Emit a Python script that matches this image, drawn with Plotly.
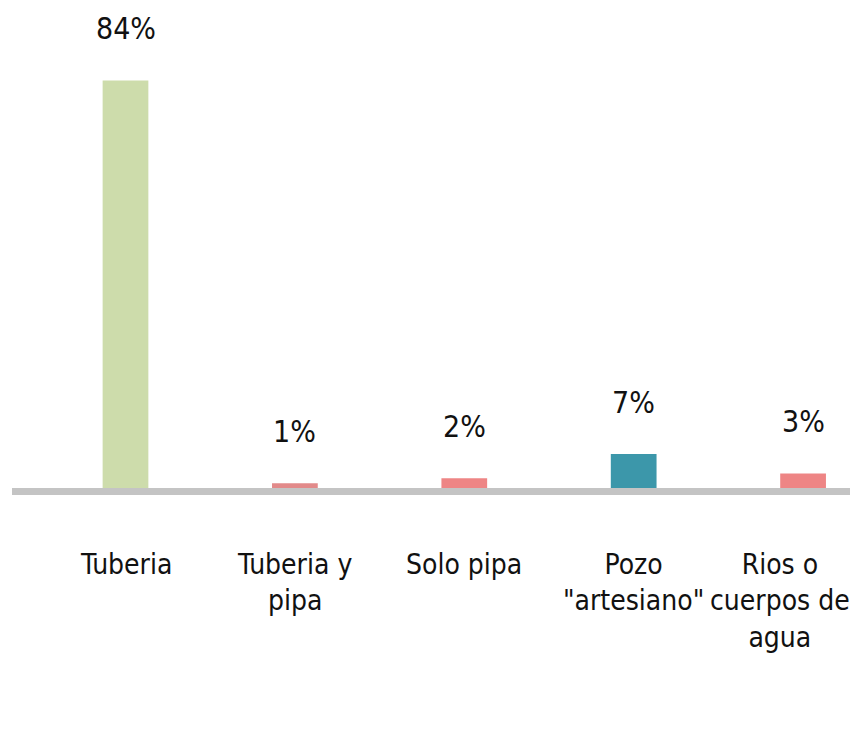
import plotly.graph_objects as go

categories = ["Tuberia", "Tuberia y<br>pipa", "Solo pipa", "Pozo<br>\"artesiano\"", "Rios o<br>cuerpos de<br>agua"]
values = [84, 1, 2, 7, 3]
labels = ["84%", "1%", "2%", "7%", "3%"]
colors = ["#cddcab", "#e28a8a", "#ee8585", "#3c97aa", "#ee8585"]

FONT = "Liberation Sans Narrow, DejaVu Sans Condensed, Arial Narrow, sans-serif"

xs = list(range(len(categories)))

fig = go.Figure()
fig.add_trace(go.Bar(
    x=xs,
    y=values,
    marker=dict(color=colors, line=dict(width=0)),
    width=0.27,
    hoverinfo="skip",
))

for i, (v, t) in enumerate(zip(values, labels)):
    fig.add_annotation(x=i, y=v, text=t, showarrow=False, yanchor="bottom",
                       yshift=32, font=dict(family=FONT, size=30, color="#111111"))

# category labels (last one nudged left so it stays inside the picture)
for i, c in enumerate(categories):
    fig.add_annotation(x=i, y=0, text=c, showarrow=False, yanchor="top",
                       yshift=-58, xshift=(-23 if i == len(categories) - 1 else 0),
                       align="center",
                       font=dict(family=FONT, size=28, color="#111111"))

# page body adds an 8px offset; keep the figure inside the window
fig.update_layout(
    width=842, height=716,
    margin=dict(l=4, r=0, t=19, b=236, autoexpand=False),
    plot_bgcolor="white", paper_bgcolor="white",
    showlegend=False,
    xaxis=dict(
        range=[-0.67, 4.277],
        showticklabels=False,
        showline=True, linecolor="#c4c4c4", linewidth=7,
        showgrid=False, zeroline=False, ticks="",
        automargin=False,
    ),
    yaxis=dict(range=[0, 95], visible=False, showgrid=False, zeroline=False),
)

fig.write_html("out.html")
